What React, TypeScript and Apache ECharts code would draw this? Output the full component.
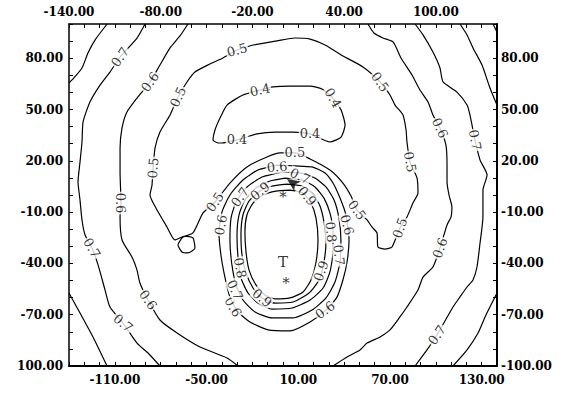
import React, { useEffect, useRef } from 'react';
import * as echarts from 'echarts';

// Axis tick labels (labels alternate between the top and bottom axes)
const xTopLabels = [-140, -80, -20, 40, 100];
const xBottomLabels = [-110, -50, 10, 70, 130];
const yLabels = [80, 50, 20, -10, -40, -70, -100];

// Contour lines, [x, y] in data units
const c08TopLeft = [[-115.1, 100], [-123.0, 90.6], [-127.6, 83.0], [-131.5, 74.3], [-138.0, 67.3], [-140, 65.5]];
const c07Left = [[-90.3, 100], [-95.5, 91.8], [-106.6, 80.7], [-113.2, 71.9], [-119.7, 64.3], [-126.3, 54.4], [-130.8, 42.7], [-131.5, 31.0], [-132.8, 19.3], [-134.1, 7.6], [-132.8, -2.9], [-131.5, -14.6], [-129.5, -23.4], [-125.0, -31.0], [-121.0, -40.9], [-116.4, -55.6], [-113.2, -65.5], [-104.7, -74.9], [-95.5, -86.6], [-88.3, -92.4], [-80.5, -100]];
const c08BottomLeft = [[-140, -57.3], [-132.8, -69.0], [-124.3, -83.0], [-115.1, -100]];
const c06Left = [[-62.2, 100], [-67.4, 93.0], [-73.9, 86.0], [-80.5, 76.0], [-87.0, 66.1], [-95.5, 56.7], [-102.1, 48.5], [-105.3, 39.2], [-106.6, 27.5], [-106.6, 13.4], [-106.0, -4.7], [-106.6, -12.9], [-105.3, -26.3], [-98.8, -36.3], [-95.5, -43.9], [-93.6, -51.5], [-88.3, -61.4], [-80.5, -73.1], [-69.3, -80.7], [-54.3, -88.9], [-36.6, -95.3], [-29.4, -100]];
const c05Loop = [[-19.6, 87.7], [-4.0, 90.1], [7.8, 91.8], [17.7, 91.2], [27.5, 87.7], [39.2, 81.3], [52.3, 74.9], [63.5, 66.1], [70.0, 58.5], [73.3, 52.6], [78.5, 46.8], [80.5, 38.0], [81.1, 31.0], [83.1, 19.3], [87.7, 9.9], [88.3, 1.2], [85.0, -4.7], [81.1, -12.9], [76.5, -19.3], [71.3, -30.4], [66.7, -31.6], [62.1, -30.4], [61.5, -22.2], [58.2, -18.7], [55.0, -14.6], [48.4, -8.8], [44.5, -0.6], [39.2, 7.0], [30.7, 14.6], [17.7, 21.1], [7.8, 24.6], [-1.9, 24.6], [-10.5, 22.2], [-23.6, 16.4], [-34.7, 7.0], [-44.5, -4.1], [-52.3, -10.5], [-58.9, -22.2], [-65.4, -24.6], [-68.7, -29.2], [-66.1, -33.3], [-62.2, -33.9], [-57.6, -31.0], [-58.9, -25.1], [-64.1, -24.0], [-70.7, -26.3], [-75.9, -18.7], [-82.4, -8.8], [-87.0, 0.0], [-85.7, 5.8], [-85.0, 15.8], [-83.7, 27.5], [-80.5, 36.8], [-73.9, 46.8], [-68.7, 57.3], [-62.8, 66.1], [-57.6, 71.9], [-47.8, 76.6], [-39.3, 80.1], [-30.1, 84.8], [-19.6, 87.7]];
const c04Loop = [[-42.5, 30.4], [-45.8, 32.2], [-44.5, 38.0], [-41.2, 45.0], [-36.6, 52.6], [-26.2, 58.5], [-15.0, 61.4], [-6.5, 63.2], [4.6, 63.7], [17.7, 63.7], [25.5, 62.0], [32.7, 56.7], [38.0, 49.7], [40.6, 40.9], [38.0, 33.9], [30.7, 31.0], [17.7, 35.7], [6.5, 36.8], [-5.2, 36.8], [-17.0, 35.7], [-30.1, 32.2], [-39.9, 30.4], [-42.5, 30.4]];
const c06Right = [[55.6, 100], [59.5, 94.7], [65.4, 91.8], [72.0, 89.5], [77.2, 80.1], [84.4, 70.2], [89.6, 61.4], [94.9, 54.4], [98.1, 46.8], [102.7, 39.2], [106.6, 29.2], [107.3, 17.5], [107.3, 7.6], [108.6, 0.0], [110.5, -7.0], [109.9, -12.9], [107.3, -17.5], [102.7, -31.0], [98.1, -42.1], [91.6, -48.0], [88.3, -55.6], [81.1, -65.5], [76.5, -71.3], [70.0, -78.9], [63.5, -83.0], [55.0, -86.6], [50.4, -90.6], [41.9, -94.7], [32.7, -100]];
const c07Right = [[86.4, 100], [91.6, 93.6], [98.1, 83.6], [102.7, 74.3], [104.7, 66.1], [113.8, 60.2], [120.4, 52.6], [122.3, 46.8], [125.6, 32.2], [128.9, 20.5], [133.5, 11.7], [130.8, 2.9], [130.8, -12.9], [128.9, -28.1], [126.9, -42.1], [124.3, -49.7], [120.4, -53.8], [115.8, -59.6], [111.2, -65.5], [100.7, -81.9], [94.2, -90.6], [86.4, -100]];
const c08TopRight = [[115.8, 100], [120.4, 93.6], [124.3, 86.0], [130.2, 76.0], [135.4, 62.6], [140, 52.6]];
const c09Corner = [[137.4, 100], [140, 95.3]];
const c08BottomRight = [[140, -57.3], [136.7, -63.2], [132.2, -71.3], [127.6, -80.7], [120.4, -90.6], [111.2, -100]];
const ring06 = [[-3.9, 17.5], [7.8, 17.0], [19.0, 16.4], [27.5, 12.9], [32.7, 7.0], [37.3, -1.8], [41.2, -11.7], [43.2, -26.3], [41.9, -39.2], [39.2, -49.7], [35.3, -59.7], [28.1, -67.3], [17.7, -74.3], [4.6, -79.5], [-9.8, -78.9], [-21.6, -74.3], [-29.4, -68.4], [-34.7, -59.7], [-37.9, -48.5], [-40.6, -35.1], [-41.9, -21.6], [-39.9, -9.9], [-34.7, 0], [-26.2, 8.8], [-16.4, 14.6], [-3.9, 17.5]];
const ring07 = [[-0.7, 13.4], [11.1, 12.9], [20.9, 9.9], [28.1, 4.7], [33.4, -2.9], [36.6, -13.5], [37.9, -26.3], [37.3, -39.2], [34.0, -50.9], [28.1, -60.2], [19.0, -67.3], [6.5, -71.9], [-7.2, -71.9], [-18.3, -68.4], [-26.2, -61.4], [-30.7, -52.6], [-33.4, -40.9], [-34.7, -26.3], [-34.0, -13.5], [-30.7, -4.1], [-24.2, 4.1], [-13.7, 10.5], [-0.7, 13.4]];
const ring08 = [[1.3, 9.9], [12.4, 8.8], [20.9, 4.7], [26.8, -1.8], [30.7, -10.5], [32.7, -21.6], [32.7, -33.3], [30.7, -45.0], [26.2, -54.4], [17.7, -61.4], [5.9, -66.1], [-7.2, -66.7], [-16.4, -63.2], [-22.9, -57.3], [-27.5, -48.5], [-29.4, -36.8], [-30.1, -24.0], [-28.8, -11.7], [-24.9, -2.9], [-17.7, 4.1], [-8.5, 8.2], [1.3, 9.9]];
const ring09 = [[2.6, 6.4], [12.4, 5.3], [19.6, 0.6], [24.2, -6.4], [26.8, -15.8], [28.1, -27.5], [26.8, -39.2], [23.6, -49.7], [17.0, -57.3], [6.5, -62.6], [-5.2, -63.2], [-13.7, -60.2], [-19.6, -54.4], [-24.2, -45.6], [-26.8, -35.1], [-27.5, -23.4], [-26.2, -11.7], [-22.2, -3.5], [-15.0, 2.3], [-6.5, 5.3], [2.6, 6.4]];
const ring10 = [[4.6, 2.9], [13.1, 1.2], [18.3, -4.7], [21.6, -13.5], [22.9, -26.3], [21.6, -39.2], [18.3, -49.7], [13.1, -56.7], [4.6, -60.2], [-5.2, -60.8], [-11.8, -58.5], [-17.7, -52.6], [-22.2, -43.9], [-24.2, -33.3], [-24.9, -21.6], [-23.6, -11.7], [-19.6, -4.7], [-13.1, 0], [-4.6, 2.3], [4.6, 2.9]];

const contourLines = [c08TopLeft, c07Left, c08BottomLeft, c06Left, c05Loop, c04Loop, c06Right, c07Right, c08TopRight, c09Corner, c08BottomRight, ring06, ring07, ring08, ring09, ring10];

// Contour labels: [x, y, text, rotation in degrees]
const contourLabels: [number, number, string, number][] = [
  [-106.6, 80.7, '0.7', 55], [-87.0, 66.1, '0.6', 55], [-68.7, 57.3, '0.5', 65], [-30.1, 84.8, '0.5', 15],
  [-85.0, 15.8, '0.5', 85], [-106.0, -4.7, '0.6', -90], [-125.0, -31.0, '0.7', -60], [-88.3, -61.4, '0.6', -55],
  [-104.7, -74.9, '0.7', -40], [-15.0, 61.4, '0.4', 12], [32.7, 56.7, '0.4', -60], [17.7, 35.7, '0.4', 0],
  [-30.1, 32.2, '0.4', 0], [63.5, 66.1, '0.5', -55], [83.1, 19.3, '0.5', -80], [76.5, -19.3, '0.5', 70],
  [48.4, -8.8, '0.5', -55], [7.8, 24.6, '0.5', 0], [-44.5, -4.1, '0.5', 55], [102.7, 39.2, '0.6', -65],
  [102.7, -31.0, '0.6', 70], [125.6, 32.2, '0.7', -80], [100.7, -81.9, '0.7', 55],
  [-3.9, 16.4, '0.6', 5], [41.9, -17.5, '0.6', -75], [27.5, -67.3, '0.6', 35], [-32.7, -65.5, '0.6', -60],
  [-40.6, -17.5, '0.6', 80], [11.1, 11.1, '0.7', -25], [36.6, -35.1, '0.7', -85], [-31.4, -55.6, '0.7', -65],
  [-28.1, -1.2, '0.7', 55], [31.4, -21.6, '0.8', -85], [-28.1, -42.7, '0.8', -80], [15.7, -0.6, '0.9', -50],
  [24.9, -44.4, '0.9', 70], [-13.7, -60.2, '0.9', -40], [-15.0, 2.3, '0.9', 40],
];

// Point annotations: [x, y, text]
const markers: [number, number, string][] = [[0, -39.2, 'T'], [0, -1.2, '*'], [2.0, -51.5, '*']];
const arrowMark = [[2.6, 9.4]];

export default function App() {
  const ref = useRef<HTMLDivElement>(null);
  useEffect(() => {
    const chart = echarts.init(ref.current!, null, { renderer: 'svg' });
    const font = 'DejaVu Serif';
    const fmt = (v: number) => v.toFixed(2);
    const isIn = (list: number[], v: number) => list.some((t) => Math.abs(t - v) < 1e-6);
    const lineStyle = { color: '#000', width: 1.5 };
    const tick = { show: true, inside: true, length: 4, lineStyle: { color: '#000', width: 1 } };
    const labelBase = { fontFamily: font, fontSize: 12, fontWeight: 'bold', color: '#000' };
    const xBase = {
      type: 'value', min: -140, max: 140, interval: 10,
      splitLine: { show: false },
      axisTick: tick,
    };
    const yBase = {
      type: 'value', min: -100, max: 100, interval: 10,
      splitLine: { show: false },
      axisTick: tick,
    };
    chart.setOption({
      animation: false,
      backgroundColor: '#fff',
      grid: { left: 69, right: 81, top: 24, bottom: 27, containLabel: false },
      xAxis: [
        {
          ...xBase, position: 'bottom',
          axisLine: { show: true, onZero: false, lineStyle: { color: '#000', width: 2 } },
          axisLabel: { ...labelBase, margin: 8, formatter: (v: number) => (isIn(xBottomLabels, v) ? fmt(v) : '') },
        },
        {
          ...xBase, position: 'top',
          axisLine: { show: true, onZero: false, lineStyle },
          axisLabel: { ...labelBase, margin: 6, formatter: (v: number) => (isIn(xTopLabels, v) ? fmt(v) : '') },
        },
      ],
      yAxis: [
        {
          ...yBase, position: 'left',
          axisLine: { show: true, onZero: false, lineStyle },
          axisLabel: { ...labelBase, margin: 6, formatter: (v: number) => (isIn(yLabels, v) ? (Math.abs(v + 100) < 1e-6 ? '100.00' : fmt(v)) : '') },
        },
        {
          ...yBase, position: 'right',
          axisLine: { show: true, onZero: false, lineStyle: { color: '#000', width: 2 } },
          axisLabel: { ...labelBase, margin: 4, formatter: (v: number) => (isIn(yLabels, v) ? fmt(v) : '') },
        },
      ],
      series: [
        ...contourLines.map((d) => ({
          type: 'line', xAxisIndex: 0, yAxisIndex: 0, data: d, showSymbol: false, smooth: 0.2,
          silent: true, z: 2, lineStyle: { color: '#000', width: 1.2 },
        })),
        {
          type: 'scatter', xAxisIndex: 0, yAxisIndex: 0, symbolSize: 1, z: 10, silent: true,
          itemStyle: { color: 'rgba(0,0,0,0)' },
          data: contourLabels.map(([x, y, t, r]) => ({ value: [x, y], name: t, label: { rotate: r } })),
          label: {
            show: true, position: 'inside', formatter: '{b}', fontFamily: font, fontSize: 13, color: '#000',
            backgroundColor: '#fff', padding: [0, 1],
          },
        },
        {
          type: 'scatter', xAxisIndex: 0, yAxisIndex: 0, symbolSize: 1, z: 11, silent: true,
          itemStyle: { color: 'rgba(0,0,0,0)' },
          data: markers.map(([x, y, t]) => ({ value: [x, y], name: t })),
          label: { show: true, position: 'inside', formatter: '{b}', fontFamily: font, fontSize: 15, color: '#000' },
        },
        {
          type: 'scatter', xAxisIndex: 0, yAxisIndex: 0, symbol: 'arrow', symbolSize: [9, 13], symbolRotate: 55,
          z: 11, silent: true, itemStyle: { color: '#000' }, data: arrowMark,
        },
      ],
    });
    return () => chart.dispose();
  }, []);
  return <div ref={ref} style={{ position: 'fixed', left: 0, top: 0, width: 578, height: 393, background: '#fff' }} />;
}
